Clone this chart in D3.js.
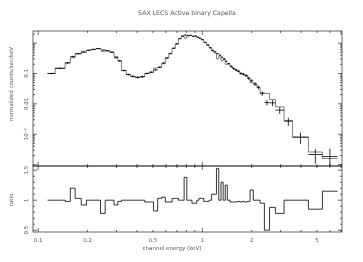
<!DOCTYPE html>
<html>
<head>
<meta charset="utf-8">
<script src="https://cdn.jsdelivr.net/npm/d3@7"></script>
<style>
  body { margin: 0; background: #fff; }
  text { font-family: "DejaVu Sans", sans-serif; fill: #555; }
  .labels { opacity: 0.99; }
</style>
</head>
<body>
<div id="chart"></div>
<script>
// Spectral bins (keV)
var energyLo = [0.114, 0.127, 0.146, 0.157, 0.168, 0.183, 0.197, 0.210, 0.225, 0.240,
    0.256, 0.273, 0.290, 0.306, 0.322, 0.344, 0.366, 0.390, 0.418, 0.446,
    0.475, 0.505, 0.535, 0.565, 0.595, 0.625, 0.655, 0.685, 0.715, 0.745,
    0.775, 0.805, 0.835, 0.865, 0.895, 0.925, 0.955, 0.985, 1.02, 1.06,
    1.10, 1.14, 1.18, 1.22, 1.26, 1.30, 1.34, 1.38, 1.42, 1.475,
    1.525, 1.575, 1.625, 1.69, 1.75, 1.81, 1.885, 1.955, 2.045, 2.15,
    2.25, 2.39, 2.57, 2.79, 3.15, 3.55, 4.43, 5.39];
var energyHi = [0.127, 0.146, 0.157, 0.168, 0.183, 0.197, 0.210, 0.225, 0.240, 0.256,
    0.273, 0.290, 0.306, 0.322, 0.344, 0.366, 0.390, 0.418, 0.446, 0.475,
    0.505, 0.535, 0.565, 0.595, 0.625, 0.655, 0.685, 0.715, 0.745, 0.775,
    0.805, 0.835, 0.865, 0.895, 0.925, 0.955, 0.985, 1.02, 1.06, 1.10,
    1.14, 1.18, 1.22, 1.26, 1.30, 1.34, 1.38, 1.42, 1.475, 1.525,
    1.575, 1.625, 1.69, 1.75, 1.81, 1.885, 1.955, 2.045, 2.15, 2.25,
    2.39, 2.57, 2.79, 3.15, 3.55, 4.43, 5.39, 6.66];

// normalized counts/sec/keV
var rate = [0.100, 0.147, 0.22, 0.36, 0.45, 0.50, 0.58, 0.62, 0.66, 0.55,
    0.56, 0.50, 0.33, 0.26, 0.125, 0.092, 0.080, 0.074, 0.078, 0.10,
    0.11, 0.13, 0.16, 0.22, 0.32, 0.45, 0.68, 0.95, 1.40, 1.70,
    1.85, 1.75, 1.80, 1.65, 1.70, 1.55, 1.45, 1.30, 1.05, 0.86,
    0.70, 0.58, 0.52, 0.45, 0.40, 0.34, 0.30, 0.25, 0.21, 0.17,
    0.145, 0.13, 0.12, 0.10, 0.095, 0.085, 0.070, 0.058, 0.045, 0.035,
    0.022, 0.0110, 0.0108, 0.0062, 0.0027, 0.0008, 0.000215, 0.000185];
// relative errors
var rateErr = [0.06, 0.06, 0.07, 0.06, 0.05, 0.05, 0.05, 0.05, 0.05, 0.05,
    0.05, 0.05, 0.06, 0.06, 0.07, 0.08, 0.08, 0.08, 0.08, 0.07,
    0.07, 0.06, 0.06, 0.05, 0.05, 0.04, 0.04, 0.04, 0.03, 0.03,
    0.03, 0.03, 0.03, 0.03, 0.03, 0.03, 0.03, 0.03, 0.04, 0.04,
    0.04, 0.05, 0.05, 0.05, 0.05, 0.06, 0.06, 0.07, 0.07, 0.08,
    0.08, 0.09, 0.09, 0.10, 0.10, 0.11, 0.12, 0.12, 0.14, 0.15,
    0.17, 0.20, 0.22, 0.25, 0.30, 0.40, 0.50, 0.80];
var model = [0.100, 0.150, 0.23, 0.33, 0.44, 0.54, 0.58, 0.62, 0.66, 0.62,
    0.56, 0.50, 0.36, 0.26, 0.125, 0.092, 0.080, 0.075, 0.078, 0.10,
    0.11, 0.15, 0.16, 0.21, 0.33, 0.46, 0.67, 0.92, 1.40, 1.72,
    1.45, 1.75, 1.80, 1.70, 1.72, 1.55, 1.42, 1.28, 1.06, 0.88,
    0.70, 0.54, 0.47, 0.30, 0.38, 0.26, 0.30, 0.20, 0.21, 0.175,
    0.15, 0.135, 0.12, 0.10, 0.095, 0.088, 0.070, 0.050, 0.045, 0.035,
    0.023, 0.022, 0.0138, 0.008, 0.0028, 0.0008, 0.00026, 0.00016];
// data / model
var ratio = [1.0, 1.0, 0.98, 1.2, 1.03, 0.92, 1.0, 1.0, 1.0, 0.78,
    1.0, 1.0, 0.92, 0.98, 1.0, 1.0, 1.0, 1.0, 1.0, 0.97,
    0.97, 0.82, 1.03, 1.05, 0.97, 0.97, 1.03, 1.03, 1.0, 1.0,
    1.38, 1.0, 1.0, 0.95, 0.95, 1.0, 1.03, 1.03, 0.98, 0.98,
    1.0, 1.1, 1.1, 1.53, 1.0, 1.3, 1.0, 1.25, 1.0, 0.97,
    0.97, 0.97, 0.98, 0.97, 0.98, 0.97, 0.98, 1.17, 1.0, 1.0,
    0.95, 0.5, 0.88, 0.78, 1.0, 1.0, 0.85, 1.15];

var xTicks = [0.1, 0.2, 0.5, 1, 2, 5];
var xTickLabels = ["0.1", "0.2", "0.5", "1", "2", "5"];
var yTicksTop = [0.1, 0.01, 0.001];
var yTickLabelsTop = ["0.1", "0.01", "10\u207B\u00B3"];
var yTicksLow = [0.5, 1, 1.5];
var yTickLabelsLow = ["0.5", "1", "1.5"];

(function () {
var W = 363, H = 262;
var left = 33, right = 342, top0 = 31, split = 166, bottom = 232;

var svg = d3.select("#chart").append("svg")
    .attr("width", W).attr("height", H);

var x = d3.scaleLog().domain([0.093, 7.1]).range([left, right]);
var yTop = d3.scaleLog().domain([9e-5, 2.5]).range([split, top0]).clamp(true);
var yLow = d3.scaleLinear().domain([0.47, 1.57]).range([bottom, split]).clamp(true);

var bins = energyLo.map(function (lo, i) {
    return { lo: lo, hi: energyHi[i], c: Math.sqrt(lo * energyHi[i]),
        rate: rate[i], err: rateErr[i], model: model[i], ratio: ratio[i] };
});

// frames
[[top0, split], [split, bottom]].forEach(function (p) {
    svg.append("rect")
        .attr("x", left).attr("y", p[0])
        .attr("width", right - left).attr("height", p[1] - p[0])
        .attr("fill", "none").attr("stroke", "#000").attr("stroke-width", 0.6);
});

var ticks = svg.append("g").attr("stroke", "#000").attr("stroke-width", 0.6);

// x ticks, inward, on both panels
var xMinor = [];
[0.1, 1].forEach(function (d) {
    for (var k = 1; k < 10; k++) if (d * k >= 0.093 && d * k <= 7.1) xMinor.push(d * k);
});
xMinor.forEach(function (v) {
    var major = (v === 0.1 || v === 1);
    var len = major ? 4 : 2;
    [top0, split, bottom].forEach(function (yy, j) {
        if (j !== 0) ticks.append("line").attr("x1", x(v)).attr("x2", x(v))
            .attr("y1", yy).attr("y2", yy - len);
        if (j !== 2) ticks.append("line").attr("x1", x(v)).attr("x2", x(v))
            .attr("y1", yy).attr("y2", yy + len);
    });
});

// top panel log y ticks
[1e-4, 1e-3, 1e-2, 1e-1, 1].forEach(function (d) {
    for (var k = 1; k < 10; k++) {
        var v = d * k;
        if (v < 9e-5 || v > 2.5) continue;
        var len = k === 1 ? 4 : 2;
        ticks.append("line").attr("x1", left).attr("x2", left + len)
            .attr("y1", yTop(v)).attr("y2", yTop(v));
        ticks.append("line").attr("x1", right).attr("x2", right - len)
            .attr("y1", yTop(v)).attr("y2", yTop(v));
    }
});

// lower panel linear ticks
d3.range(5, 16).forEach(function (k) {
    var v = k / 10, len = k % 5 === 0 ? 4 : 2;
    ticks.append("line").attr("x1", left).attr("x2", left + len)
        .attr("y1", yLow(v)).attr("y2", yLow(v));
    ticks.append("line").attr("x1", right).attr("x2", right - len)
        .attr("y1", yLow(v)).attr("y2", yLow(v));
});

var labels = svg.append("g").attr("class", "labels");

// tick labels
labels.selectAll(".xl").data(xTicks).enter().append("text")
    .attr("x", function (d) { return x(d); })
    .attr("y", 242)
    .attr("text-anchor", "middle")
    .attr("font-size", 5.5)
    .text(function (d, i) { return xTickLabels[i]; });

labels.selectAll(".yl").data(yTicksTop).enter().append("text")
    .attr("transform", function (d) { return "translate(28," + yTop(d) + ") rotate(-90)"; })
    .attr("text-anchor", "middle")
    .attr("font-size", 5.5)
    .text(function (d, i) { return yTickLabelsTop[i]; });

labels.selectAll(".yl2").data(yTicksLow).enter().append("text")
    .attr("transform", function (d) { return "translate(28," + yLow(d) + ") rotate(-90)"; })
    .attr("text-anchor", "middle")
    .attr("font-size", 5.5)
    .text(function (d, i) { return yTickLabelsLow[i]; });

// model, step line
var mp = d3.path();
bins.forEach(function (b, i) {
    if (i === 0) mp.moveTo(x(b.lo), yTop(b.model));
    else mp.lineTo(x(b.lo), yTop(b.model));
    mp.lineTo(x(b.hi), yTop(b.model));
});
svg.append("path").attr("d", mp.toString())
    .attr("fill", "none").attr("stroke", "#000").attr("stroke-width", 0.5);

// data crosses
var crosses = svg.append("g").attr("stroke", "#000").attr("stroke-width", 0.8);
bins.forEach(function (b) {
    crosses.append("line")
        .attr("x1", x(b.lo)).attr("x2", x(b.hi))
        .attr("y1", yTop(b.rate)).attr("y2", yTop(b.rate));
    crosses.append("line")
        .attr("x1", x(b.c)).attr("x2", x(b.c))
        .attr("y1", yTop(b.rate * (1 - b.err))).attr("y2", yTop(b.rate * (1 + b.err)));
});

// ratio, step line
var rp = d3.path();
bins.forEach(function (b, i) {
    if (i === 0) rp.moveTo(x(b.lo), yLow(b.ratio));
    else rp.lineTo(x(b.lo), yLow(b.ratio));
    rp.lineTo(x(b.hi), yLow(b.ratio));
});
svg.append("path").attr("d", rp.toString())
    .attr("fill", "none").attr("stroke", "#000").attr("stroke-width", 0.8);

// titles
labels.append("text")
    .attr("x", 187).attr("y", 15)
    .attr("text-anchor", "middle")
    .attr("font-size", 6.2)
    .text("SAX LECS Active binary Capella");

labels.append("text")
    .attr("x", 172).attr("y", 250)
    .attr("text-anchor", "middle")
    .attr("font-size", 5.5)
    .text("channel energy (keV)");

labels.append("text")
    .attr("transform", "translate(13,84) rotate(-90)")
    .attr("text-anchor", "middle")
    .attr("font-size", 5.5)
    .text("normalized counts/sec/keV");

labels.append("text")
    .attr("transform", "translate(13,200) rotate(-90)")
    .attr("text-anchor", "middle")
    .attr("font-size", 5.5)
    .text("ratio");
})();
</script>
</body>
</html>
